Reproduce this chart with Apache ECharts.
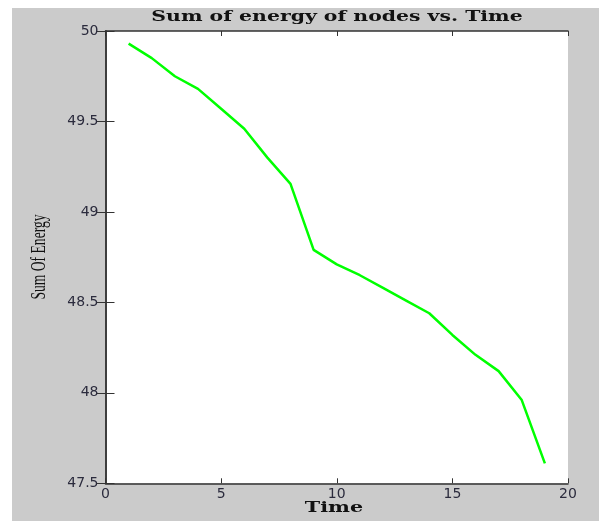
<!DOCTYPE html>
<html>
<head>
<meta charset="utf-8">
<script src="https://cdn.jsdelivr.net/npm/echarts@6/dist/echarts.min.js"></script>
<style>
html,body{margin:0;padding:0;background:#fff;}
#c{width:599px;height:521px;}
</style>
</head>
<body>
<div id="c"></div>
<script>
var times = [1,2,3,4,5,6,7,8,9,10,11,12,13,14,15,16,17,18,19];
var energy = [49.93,49.85,49.75,49.68,49.57,49.46,49.30,49.155,48.79,48.71,48.65,48.58,48.51,48.44,48.32,48.21,48.12,47.96,47.61];
var titleText = 'Sum of energy of nodes vs. Time';
var xName = 'Time';
var yName = 'Sum Of Energy';

var chart = echarts.init(document.getElementById('c'));
var pts = times.map(function(t,i){return [t, energy[i]];});
var axisCol = '#333333';
var labelStyle = {color:'#2b2b3d', fontFamily:'DejaVu Sans', fontSize:14};
chart.setOption({
  animation:false,
  backgroundColor:'#ffffff',
  graphic:[
    {type:'rect', z:-10, shape:{x:12,y:8,width:587,height:513}, style:{fill:'#cbcbcb'}},
    {type:'text', x:337, y:17, scaleX:1.36, style:{text:titleText, font:'bold 15px "DejaVu Serif"', fill:'#111', textAlign:'center', textVerticalAlign:'middle'}},
    {type:'text', x:334, y:508, scaleX:1.38, style:{text:xName, font:'bold 15px "DejaVu Serif"', fill:'#111', textAlign:'center', textVerticalAlign:'middle'}},
    {type:'text', x:40, y:257, rotation:Math.PI/2, scaleX:0.68, style:{text:yName, font:'20px "Liberation Serif"', fill:'#111', textAlign:'center', textVerticalAlign:'middle'}}
  ],
  grid:{left:105.5, right:31, top:31, bottom:37.7, show:true, backgroundColor:'#ffffff', borderWidth:0},
  xAxis:[
    {type:'value', min:0, max:20, interval:5, position:'bottom',
     axisLine:{show:true, lineStyle:{color:axisCol, width:1.5}},
     axisTick:{show:true, inside:true, length:5, lineStyle:{color:axisCol}},
     axisLabel:Object.assign({margin:4}, labelStyle),
     splitLine:{show:false}},
    {type:'value', min:0, max:20, interval:5, position:'top',
     axisLine:{show:true, lineStyle:{color:axisCol, width:1.5}},
     axisTick:{show:true, inside:true, length:5, lineStyle:{color:axisCol}},
     axisLabel:{show:false}, splitLine:{show:false}}
  ],
  yAxis:[
    {type:'value', min:47.5, max:50, interval:0.5, position:'left',
     axisLine:{show:true, lineStyle:{color:axisCol, width:1.5}},
     axisTick:{show:true, inside:true, length:9, lineStyle:{color:axisCol}},
     axisLabel:Object.assign({margin:7}, labelStyle),
     splitLine:{show:false}},
    {type:'value', min:47.5, max:50, interval:0.5, position:'right',
     axisLine:{show:true, lineStyle:{color:axisCol, width:1.5}},
     axisTick:{show:true, inside:true, length:9, lineStyle:{color:axisCol}},
     axisLabel:{show:false}, splitLine:{show:false}}
  ],
  series:[{
    type:'line', data:pts, xAxisIndex:0, yAxisIndex:0,
    showSymbol:false, symbol:'none',
    lineStyle:{color:'#00ff00', width:2.5}
  }]
});
</script>
</body>
</html>
